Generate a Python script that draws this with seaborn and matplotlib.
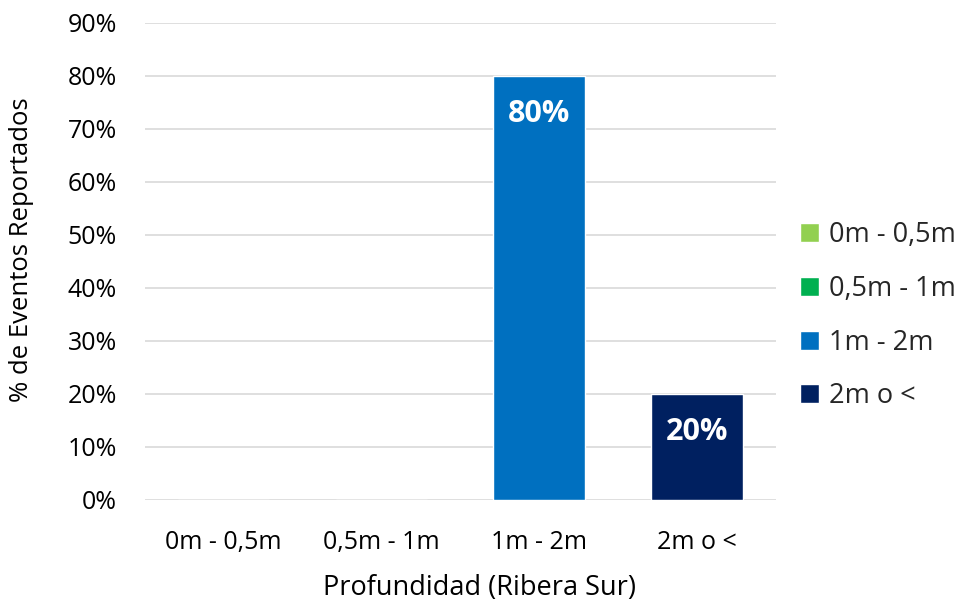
import matplotlib
matplotlib.use("Agg")
import pandas as pd
import seaborn as sns
from matplotlib import pyplot as plt
from matplotlib.ticker import PercentFormatter

categories = ["0m - 0,5m", "0,5m - 1m", "1m - 2m", "2m o <"]
values = [0, 0, 80, 20]
colors = ["#92D050", "#00B050", "#0070C0", "#002060"]
y_ticks = [0, 10, 20, 30, 40, 50, 60, 70, 80, 90]

df = pd.DataFrame({"Profundidad": categories, "Porcentaje": values})

sns.set_theme(style="white")
plt.rcParams['font.family'] = ['Open Sans', 'DejaVu Sans']

fig, ax = plt.subplots(figsize=(9.64, 6.03), dpi=100)
fig.subplots_adjust(left=0.15, right=0.805, top=0.962, bottom=0.171)

sns.barplot(data=df, x="Profundidad", y="Porcentaje", hue="Profundidad",
            palette=colors, saturation=1, dodge=False, width=0.58,
            ax=ax, legend=True)

ax.set_ylim(0, 90)
ax.set_yticks(y_ticks)
ax.yaxis.set_major_formatter(PercentFormatter(decimals=0))
ax.grid(axis="y", color="#D9D9D9", linewidth=1.2)
ax.set_axisbelow(True)
for s in ax.spines.values():
    s.set_visible(False)
ax.tick_params(axis="both", length=0, labelsize=18, labelcolor="#000000")
ax.tick_params(axis="y", pad=20)
ax.tick_params(axis="x", pad=22)

for container, v in zip(ax.containers, values):
    ax.bar_label(container, labels=[f"{v}%" if v > 0 else ""],
                 label_type="edge", padding=-38, color="white",
                 fontsize=22, fontweight="bold")

ax.set_xlabel("Profundidad (Ribera Sur)", fontsize=19.5, color="#000000")
ax.set_ylabel("% de Eventos Reportados", fontsize=18.5, color="#000000")
ax.xaxis.set_label_coords(0.53, -0.155)
ax.yaxis.set_label_coords(-0.175, 0.524)

leg = ax.legend(loc="center left", bbox_to_anchor=(1.0, 0.386), frameon=False,
                fontsize=19.5, handlelength=0.7, handleheight=0.7,
                handletextpad=0.35, labelspacing=0.95)

fig.savefig("out.png", dpi=100)
